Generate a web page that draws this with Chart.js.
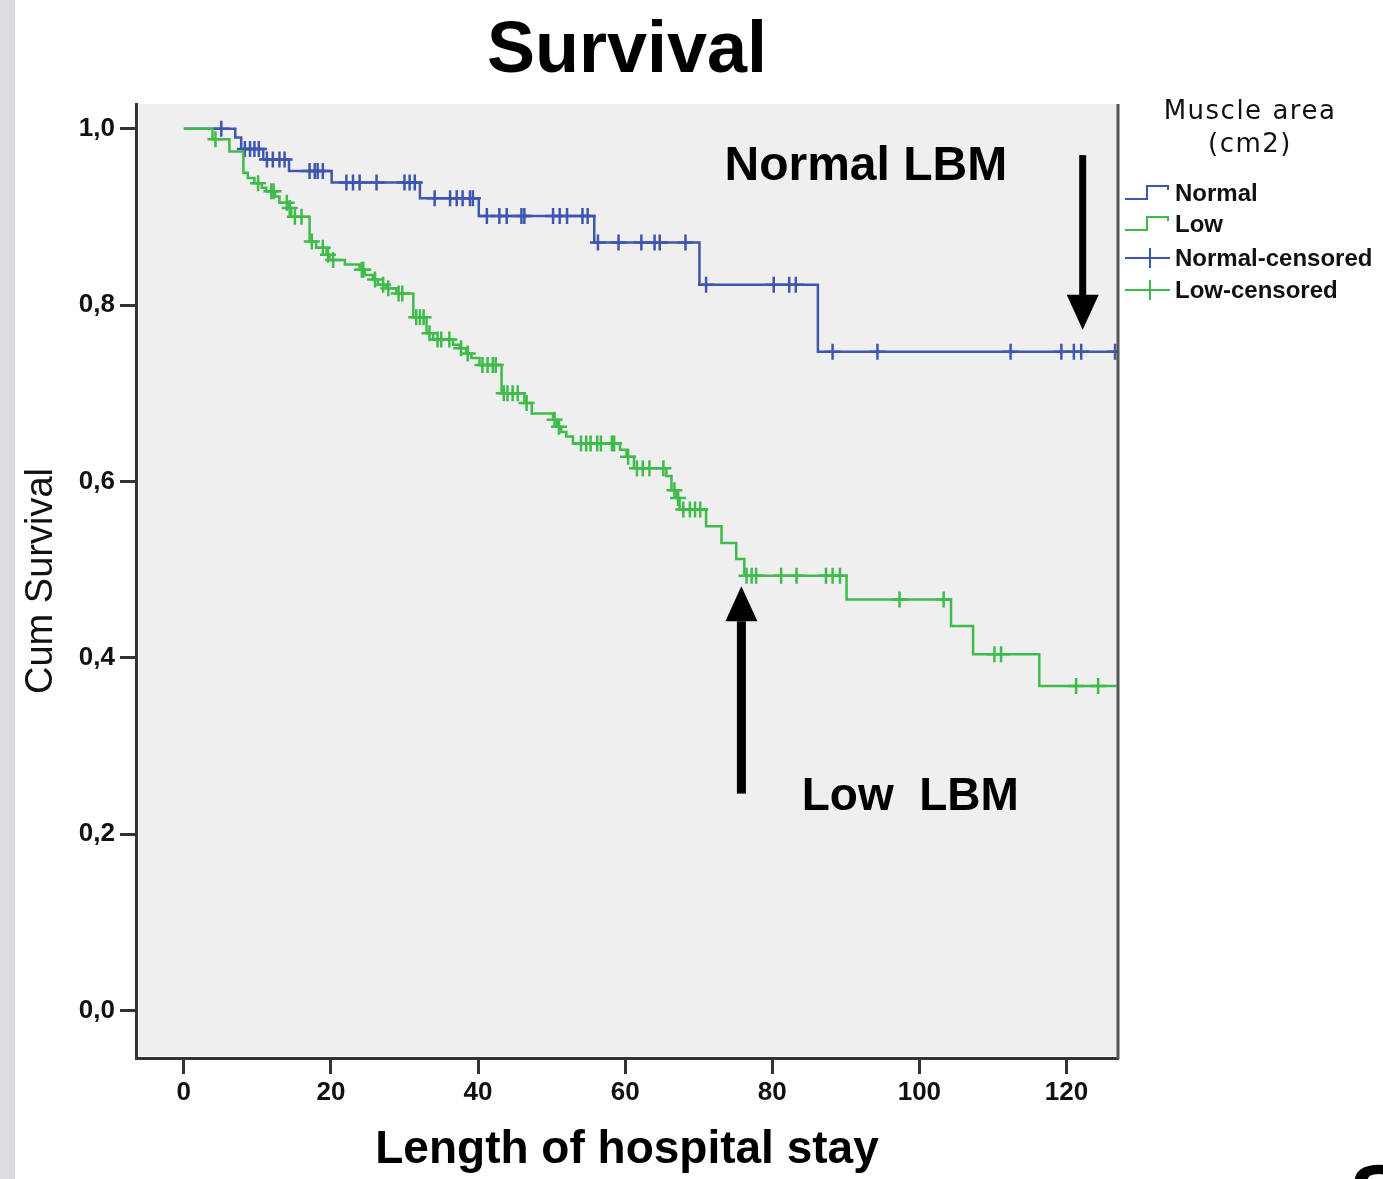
<!DOCTYPE html>
<html>
<head>
<meta charset="utf-8">
<title>Survival</title>
<script src="https://cdn.jsdelivr.net/npm/chart.js@4.4.1/dist/chart.umd.min.js"></script>
<style>
  html, body { margin: 0; padding: 0; background: #fff; }
  #wrap { position: relative; width: 1383px; height: 1179px; overflow: hidden; }
  #km { position: absolute; left: 0; top: 0; }
  #strip { position: absolute; left: 0; top: 0; width: 15px; height: 1179px; background: #dcdce0; }
</style>
</head>
<body>
<div id="wrap">
  <canvas id="km" width="1383" height="1179"></canvas>
  <div id="strip"></div>
</div>
<script>
// Kaplan-Meier: length of hospital stay by muscle area

// step times (days) and survival after each step
const normalTimes = [0, 7.0, 7.8, 10.8, 14.3, 20.1, 32.1, 40.1, 55.8, 70.1, 86.2];
const normalSurv  = [1.0, 0.990, 0.977, 0.965, 0.952, 0.939, 0.921, 0.901, 0.871, 0.823, 0.747];

const lowTimes = [0, 3.9, 6.2, 8.1, 8.7, 9.6, 10.6, 11.2, 12.4, 13.0, 14.2, 14.6,
    17.1, 18.0, 19.4, 19.8, 21.9, 23.9, 24.6, 25.7, 26.4, 27.5, 28.9, 31.2,
    33.0, 33.9, 36.6, 37.5, 38.4, 39.1, 40.2, 43.2, 46.3, 47.3, 50.2, 50.7,
    51.3, 52.0, 52.9, 59.3, 60.2, 61.2, 65.6, 66.3, 67.0, 67.4, 71.0, 73.1,
    75.1, 76.2, 90.1, 104.3, 107.3, 116.3];
const lowSurv = [1.0, 0.988, 0.974, 0.950, 0.944, 0.938, 0.933, 0.929, 0.923, 0.916, 0.910, 0.900,
    0.872, 0.865, 0.857, 0.851, 0.846, 0.840, 0.834, 0.829, 0.823, 0.819, 0.813, 0.786,
    0.768, 0.761, 0.755, 0.751, 0.745, 0.740, 0.732, 0.700, 0.689, 0.677, 0.670, 0.662,
    0.656, 0.651, 0.643, 0.636, 0.628, 0.615, 0.606, 0.590, 0.581, 0.568, 0.549, 0.530,
    0.512, 0.493, 0.466, 0.436, 0.404, 0.368];

// censored cases (days)
const normalCensored = [5.1, 8.3, 9.0, 9.6, 10.2, 11.3, 12.1, 13.0, 13.7, 17.1, 17.8, 18.2, 18.9,
    22.1, 23.0, 23.9, 26.2, 30.0, 30.7, 31.4, 34.1, 36.2, 37.1, 37.9, 38.9, 39.3,
    41.2, 42.9, 43.9, 45.9, 46.3, 50.2, 51.1, 52.1, 54.2, 54.9, 56.3, 59.1, 62.2,
    64.0, 64.7, 68.2, 71.0, 80.2, 82.3, 83.2, 88.2, 94.3, 112.4, 119.3, 121.0, 122.0, 126.6];
const lowCensored = [4.3, 10.1, 11.9, 12.2, 14.0, 14.4, 15.1, 16.0, 17.4, 18.9, 19.6, 20.3,
    24.2, 24.4, 26.0, 27.1, 27.8, 29.2, 29.7, 31.6, 32.1, 32.6, 33.4, 34.5, 35.0,
    36.1, 37.7, 38.6, 40.6, 41.3, 42.0, 42.4, 43.5, 44.0, 44.7, 45.4, 46.6, 50.4,
    51.0, 54.0, 54.7, 55.3, 56.2, 56.7, 58.2, 58.5, 60.4, 61.6, 62.4, 63.3, 65.2,
    66.7, 67.2, 67.9, 68.8, 69.5, 70.2, 76.5, 77.2, 77.8, 81.2, 83.3, 87.3, 88.2,
    89.2, 97.3, 103.3, 110.2, 111.1, 121.3, 124.3];

const followUpEnd = 126.8;

const xTicks = [0, 20, 40, 60, 80, 100, 120];
const yTicks = [0, 0.2, 0.4, 0.6, 0.8, 1.0];
const yTickLabels = ['0,0', '0,2', '0,4', '0,6', '0,8', '1,0'];

const legendTitle = ['Muscle area', '(cm2)'];
const legendItems = ['Normal', 'Low', 'Normal-censored', 'Low-censored'];

// annotations (data units)
const notes = [
    { text: 'Normal LBM', x: 73.5, y: 0.957, size: 48 },
    { text: 'Low  LBM', x: 84.0, y: 0.242, size: 46 }
];
const arrows = [
    { x: 122.2, from: 0.970, to: 0.772, shaft: 7 },
    { x: 75.8, from: 0.247, to: 0.481, shaft: 9 }
];

const BLUE = '#3e56ae';
const GREEN = '#3fbb4b';
const FONT = "'Liberation Sans', Arial, sans-serif";

function stepPoints(times, surv) {
    const pts = times.map((t, i) => ({ x: t, y: surv[i] }));
    pts.push({ x: followUpEnd, y: surv[surv.length - 1] });
    return pts;
}

function survAt(times, surv, t) {
    let s = surv[0];
    for (let i = 0; i < times.length; i++) {
        if (times[i] <= t) s = surv[i];
    }
    return s;
}

function censorPoints(list, times, surv) {
    return list.map(t => ({ x: t, y: survAt(times, surv, t) }));
}

const decor = {
    id: 'decor',
    beforeDraw(chart) {
        const { ctx, chartArea: a } = chart;
        ctx.save();
        ctx.fillStyle = '#efefef';
        ctx.fillRect(a.left + 3, a.top, a.right - a.left - 3, a.bottom - a.top - 2);
        ctx.restore();
    },
    afterDraw(chart) {
        const { ctx, chartArea: a } = chart;
        const xs = chart.scales.x, ys = chart.scales.y;
        ctx.save();

        // right frame line
        ctx.strokeStyle = '#555';
        ctx.lineWidth = 3;
        ctx.beginPath();
        ctx.moveTo(a.right, a.top);
        ctx.lineTo(a.right, a.bottom + 1);
        ctx.stroke();

        // legend
        const lx = a.right + 7;
        ctx.fillStyle = '#111';
        ctx.textAlign = 'center';
        ctx.textBaseline = 'middle';
        ctx.font = "26px 'DejaVu Sans', sans-serif";
        ctx.letterSpacing = '1.5px';
        ctx.fillText(legendTitle[0], 1250, 112);
        ctx.fillText(legendTitle[1], 1250, 145);
        ctx.letterSpacing = '0px';

        const rows = [193, 224, 258, 290];
        const colors = [BLUE, GREEN, BLUE, GREEN];
        ctx.font = 'bold 24px ' + FONT;
        ctx.textAlign = 'left';
        legendItems.forEach((label, i) => {
            const y = rows[i];
            ctx.strokeStyle = colors[i];
            ctx.lineWidth = 2;
            ctx.beginPath();
            if (i < 2) {
                ctx.moveTo(lx, y + 6);
                ctx.lineTo(lx + 22, y + 6);
                ctx.lineTo(lx + 22, y - 7);
                ctx.lineTo(lx + 43, y - 7);
                ctx.lineTo(lx + 43, y - 3);
            } else {
                ctx.moveTo(lx, y);
                ctx.lineTo(lx + 45, y);
                ctx.moveTo(lx + 25, y - 10);
                ctx.lineTo(lx + 25, y + 10);
            }
            ctx.stroke();
            ctx.fillStyle = '#111';
            ctx.fillText(label, lx + 50, y + 1);
        });

        // annotation texts
        ctx.fillStyle = '#000';
        notes.forEach(n => {
            ctx.font = 'bold ' + n.size + 'px ' + FONT;
            ctx.fillText(n.text, xs.getPixelForValue(n.x), ys.getPixelForValue(n.y));
        });

        // arrows
        arrows.forEach(ar => {
            const x = xs.getPixelForValue(ar.x);
            const y0 = ys.getPixelForValue(ar.from);
            const y1 = ys.getPixelForValue(ar.to);
            const dir = y1 > y0 ? 1 : -1;
            const headL = 35, headW = 16;
            ctx.fillRect(x - ar.shaft / 2, Math.min(y0, y1 - dir * headL), ar.shaft, Math.abs(y1 - dir * headL - y0) + 1);
            ctx.beginPath();
            ctx.moveTo(x - headW, y1 - dir * headL);
            ctx.lineTo(x + headW, y1 - dir * headL);
            ctx.lineTo(x, y1);
            ctx.closePath();
            ctx.fill();
        });

        // edge of next slide letter
        ctx.font = 'bold 90px ' + FONT;
        ctx.textBaseline = 'alphabetic';
        ctx.fillText('S', 1349, 1228);
        ctx.restore();
    }
};

new Chart(document.getElementById('km'), {
    type: 'scatter',
    data: {
        datasets: [
            {
                label: 'Low',
                data: stepPoints(lowTimes, lowSurv),
                showLine: true,
                stepped: 'before',
                borderColor: GREEN,
                borderWidth: 2.5,
                pointRadius: 0,
                fill: false
            },
            {
                label: 'Normal',
                data: stepPoints(normalTimes, normalSurv),
                showLine: true,
                stepped: 'before',
                borderColor: BLUE,
                borderWidth: 2.5,
                pointRadius: 0,
                fill: false
            },
            {
                label: 'Low-censored',
                data: censorPoints(lowCensored, lowTimes, lowSurv),
                pointStyle: 'cross',
                pointRadius: 8,
                borderColor: GREEN,
                borderWidth: 2.5
            },
            {
                label: 'Normal-censored',
                data: censorPoints(normalCensored, normalTimes, normalSurv),
                pointStyle: 'cross',
                pointRadius: 8,
                borderColor: BLUE,
                borderWidth: 2.5
            }
        ]
    },
    options: {
        responsive: false,
        animation: false,
        devicePixelRatio: 1,
        layout: { padding: { left: 0, right: 265, top: 0, bottom: 0 } },
        plugins: {
            legend: { display: false },
            tooltip: { enabled: false },
            title: {
                display: true,
                fullSize: false,
                text: 'Survival',
                color: '#000',
                font: { family: FONT, size: 72, weight: 'bold', lineHeight: 1 },
                padding: { top: 16, bottom: 16 }
            }
        },
        scales: {
            x: {
                type: 'linear',
                min: -6.5,
                max: 127,
                afterBuildTicks: s => { s.ticks = xTicks.map(v => ({ value: v })); },
                afterFit: s => { s.height = 121; },
                grid: { drawOnChartArea: false, drawTicks: true, tickLength: 16, tickColor: '#333', tickWidth: 3 },
                border: { display: true, color: '#333', width: 3 },
                ticks: {
                    padding: 3,
                    color: '#111',
                    font: { family: FONT, size: 26, weight: 'bold' },
                    callback: v => String(v)
                },
                title: {
                    display: true,
                    text: 'Length of hospital stay',
                    color: '#000',
                    font: { family: FONT, size: 46, weight: 'bold' },
                    padding: { top: 0, bottom: 1 }
                }
            },
            y: {
                type: 'linear',
                min: -0.054,
                max: 1.028,
                afterBuildTicks: s => { s.ticks = yTicks.map(v => ({ value: v })); },
                afterFit: s => { s.width = 136; },
                grid: { drawOnChartArea: false, drawTicks: true, tickLength: 16, tickColor: '#333', tickWidth: 3 },
                border: { display: true, color: '#333', width: 3 },
                ticks: {
                    padding: 5,
                    color: '#111',
                    font: { family: FONT, size: 26, weight: 'bold' },
                    callback: (v, i) => yTickLabels[i]
                },
                title: {
                    display: true,
                    text: 'Cum Survival',
                    color: '#111',
                    font: { family: FONT, size: 38 },
                    padding: { top: 19, bottom: 0 }
                }
            }
        }
    },
    plugins: [decor]
});
</script>
</body>
</html>
